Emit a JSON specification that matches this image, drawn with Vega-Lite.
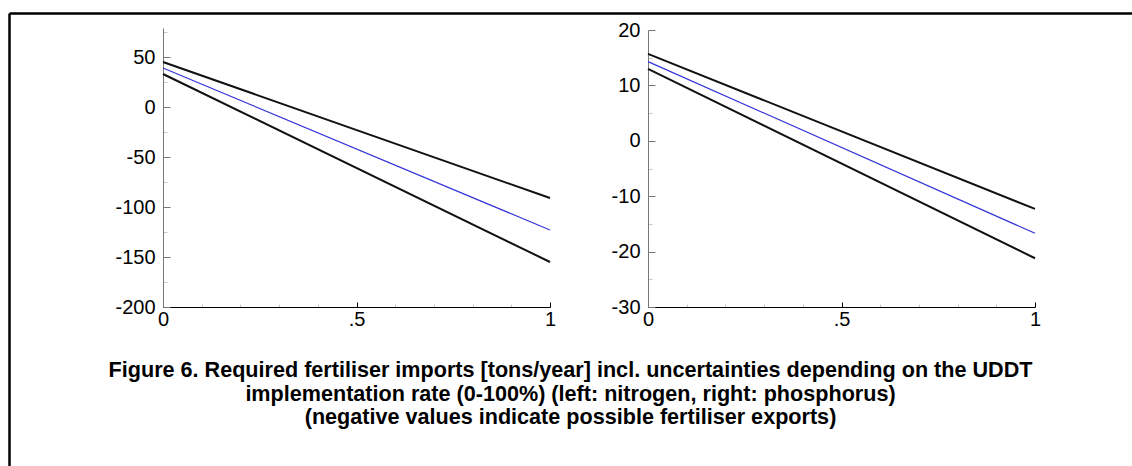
{
  "$schema": "https://vega.github.io/schema/vega-lite/v6.json",
  "autosize": {"type": "none"},
  "padding": {"left": 9, "top": 13, "right": 0, "bottom": 0},
  "width": 1123,
  "height": 453,
  "background": "white",
  "config": {
    "view": {"stroke": null},
    "font": "Liberation Sans",
    "axis": {"labelFont": "Liberation Sans", "labelFontSize": 20, "labelColor": "black", "grid": false, "title": null}
  },
  "datasets": {
    "nitrogen": [
      {"rate": 0, "value": 45, "series": "upper"},
      {"rate": 1, "value": -91, "series": "upper"},
      {"rate": 0, "value": 39, "series": "mean"},
      {"rate": 1, "value": -123, "series": "mean"},
      {"rate": 0, "value": 33, "series": "lower"},
      {"rate": 1, "value": -155, "series": "lower"}
    ],
    "phosphorus": [
      {"rate": 0, "value": 15.7, "series": "upper"},
      {"rate": 1, "value": -12.3, "series": "upper"},
      {"rate": 0, "value": 14.3, "series": "mean"},
      {"rate": 1, "value": -16.7, "series": "mean"},
      {"rate": 0, "value": 13.0, "series": "lower"},
      {"rate": 1, "value": -21.2, "series": "lower"}
    ]
  },
  "title": {
    "text": [
      "Figure 6. Required fertiliser imports [tons/year] incl. uncertainties depending on the UDDT",
      "implementation rate (0-100%) (left: nitrogen, right: phosphorus)",
      "(negative values indicate possible fertiliser exports)"
    ],
    "orient": "bottom",
    "anchor": "middle",
    "frame": "group",
    "offset": -106,
    "font": "Liberation Sans",
    "fontSize": 21.6,
    "fontWeight": "bold",
    "lineHeight": 23.5,
    "color": "black"
  },
  "resolve": {
    "scale": {"x": "independent", "y": "independent", "color": "independent"},
    "axis": {"x": "independent", "y": "independent"}
  },
  "layer": [
    {
      "data": {"name": "nitrogen"},
      "mark": {"type": "point", "opacity": 0},
      "encoding": {
        "x": {"field": "rate", "type": "quantitative", "scale": {"domain": [0, 1]},
              "axis": {"orient": "top", "ticks": false, "labels": false, "domainColor": "black", "domainWidth": 2.5}},
        "y": {"field": "value", "type": "quantitative", "scale": {"domain": [-200, 80]},
              "axis": {"orient": "left", "ticks": false, "labels": false, "domainColor": "black", "domainWidth": 2.5}}
      }
    },
    {
      "data": {"name": "nitrogen"},
      "mark": {"type": "point", "opacity": 0},
      "encoding": {
        "x": {"field": "rate", "type": "quantitative", "scale": {"domain": [0, 1], "range": [154, 541], "nice": false},
              "axis": {"orient": "bottom", "offset": -159, "domain": false, "labels": false, "tickSize": -3, "tickColor": "#c8c8c8",
                       "values": [0.1, 0.2, 0.3, 0.4, 0.6, 0.7, 0.8, 0.9]}},
        "y": {"field": "value", "type": "quantitative", "scale": {"domain": [-200, 79], "range": [294, 15], "nice": false, "zero": false},
              "axis": {"orient": "left", "offset": -154, "domain": false, "labels": false, "tickSize": -4, "tickColor": "#c8c8c8",
                       "values": [-175, -125, -75, -25, 25, 75]}}
      }
    },
    {
      "data": {"name": "nitrogen"},
      "mark": {"type": "line"},
      "encoding": {
        "x": {"field": "rate", "type": "quantitative", "scale": {"domain": [0, 1], "range": [154, 541], "nice": false},
              "axis": {"orient": "bottom", "offset": -159, "values": [0, 0.5, 1], "tickSize": -5, "labelPadding": 7,
                       "domainColor": "black", "tickColor": "black", "labelFlush": false,
                       "labelExpr": "replace(format(datum.value, '~g'), '0.', '.')"}},
        "y": {"field": "value", "type": "quantitative", "scale": {"domain": [-200, 79], "range": [294, 15], "nice": false, "zero": false},
              "axis": {"orient": "left", "offset": -154, "values": [-200, -150, -100, -50, 0, 50], "tickSize": -7, "labelPadding": 15,
                       "domainColor": "#777777", "tickColor": "#777777", "labelFlush": false,
                       "labelExpr": "replace(datum.label, '−', '-')"}},
        "detail": {"field": "series"},
        "color": {"field": "series", "type": "nominal", "legend": null,
                  "scale": {"domain": ["upper", "mean", "lower"], "range": ["#111111", "#3535d8", "#111111"]}},
        "strokeWidth": {"condition": {"test": "datum.series === 'mean'", "value": 1.2}, "value": 2}
      }
    },
    {
      "data": {"name": "phosphorus"},
      "mark": {"type": "point", "opacity": 0},
      "encoding": {
        "x": {"field": "rate", "type": "quantitative", "scale": {"domain": [0, 1], "range": [639, 1026], "nice": false},
              "axis": {"orient": "bottom", "offset": -159, "domain": false, "labels": false, "tickSize": -3, "tickColor": "#c8c8c8",
                       "values": [0.1, 0.2, 0.3, 0.4, 0.6, 0.7, 0.8, 0.9]}},
        "y": {"field": "value", "type": "quantitative", "scale": {"domain": [-30, 20], "range": [294, 17], "nice": false, "zero": false},
              "axis": {"orient": "left", "offset": -639, "domain": false, "labels": false, "tickSize": -4, "tickColor": "#c8c8c8",
                       "values": [-25, -15, -5, 5, 15]}}
      }
    },
    {
      "data": {"name": "phosphorus"},
      "mark": {"type": "line"},
      "encoding": {
        "x": {"field": "rate", "type": "quantitative", "scale": {"domain": [0, 1], "range": [639, 1026], "nice": false},
              "axis": {"orient": "bottom", "offset": -159, "values": [0, 0.5, 1], "tickSize": -5, "labelPadding": 7,
                       "domainColor": "black", "tickColor": "black", "labelFlush": false,
                       "labelExpr": "replace(format(datum.value, '~g'), '0.', '.')"}},
        "y": {"field": "value", "type": "quantitative", "scale": {"domain": [-30, 20], "range": [294, 17], "nice": false, "zero": false},
              "axis": {"orient": "left", "offset": -639, "values": [-30, -20, -10, 0, 10, 20], "tickSize": -7, "labelPadding": 15,
                       "domainColor": "#777777", "tickColor": "#777777", "labelFlush": false,
                       "labelExpr": "replace(datum.label, '−', '-')"}},
        "detail": {"field": "series"},
        "color": {"field": "series", "type": "nominal", "legend": null,
                  "scale": {"domain": ["upper", "mean", "lower"], "range": ["#111111", "#3535d8", "#111111"]}},
        "strokeWidth": {"condition": {"test": "datum.series === 'mean'", "value": 1.2}, "value": 2}
      }
    }
  ]
}
